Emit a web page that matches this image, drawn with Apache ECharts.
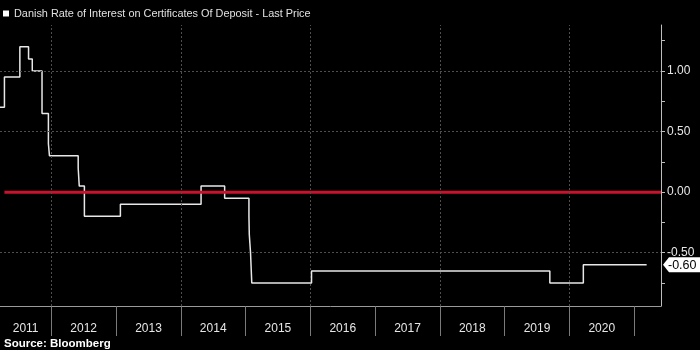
<!DOCTYPE html>
<html>
<head>
<meta charset="utf-8">
<script src="https://cdn.jsdelivr.net/npm/echarts@6/dist/echarts.min.js"></script>
<style>
  html, body { margin: 0; padding: 0; background: #000; }
  #chart { width: 700px; height: 350px; }
</style>
</head>
<body>
<div id="chart"></div>
<script>
// Danish CD rate: each level holds from its date until the next change (%).
const changeDates = [
  '2011-03-18', '2011-04-12', '2011-07-08', '2011-08-26', '2011-09-16',
  '2011-11-10', '2011-12-16', '2011-12-22', '2012-06-01', '2012-06-07',
  '2012-07-06', '2013-01-25', '2014-04-25', '2014-09-05', '2015-01-20',
  '2015-01-22', '2015-01-29', '2015-02-05', '2016-01-08', '2019-09-13',
  '2020-03-20', '2021-03-12'
];
const rates = [
  0.70, 0.95, 1.20, 1.10, 1.00,
  0.65, 0.40, 0.30, 0.20, 0.05,
  -0.20, -0.10, 0.05, -0.05, -0.20,
  -0.35, -0.50, -0.75, -0.65, -0.75,
  -0.60, -0.60
];
const seriesName = 'Danish Rate of Interest on Certificates Of Deposit - Last Price';

// Axis settings
const xRange = ['2011-03-18', '2021-06-01'];
const yRange = [-0.94, 1.38];
const yearLabels = ['2011', '2012', '2013', '2014', '2015', '2016', '2017', '2018', '2019', '2020'];
const yearBoundaries = ['2012', '2013', '2014', '2015', '2016', '2017', '2018', '2019', '2020', '2021'];
const gridYears = ['2012', '2014', '2016', '2018', '2020'];
const yTickValues = [-0.75, -0.5, -0.25, 0, 0.25, 0.5, 0.75, 1.0, 1.25];
const yLabelValues = [-0.5, 0, 0.5, 1.0];
const yGridValues = [-0.5, 0.5, 1.0];
const zeroLineStart = '2011-04-12';

// dates become UTC timestamps on a linear value axis
const ts = s => {
  const p = s.split('-').map(Number);
  return Date.UTC(p[0], (p[1] || 1) - 1, p[2] || 1);
};
const xMin = ts(xRange[0]);
const xMax = ts(xRange[1]);

const lineData = changeDates.map((d, i) => [ts(d), rates[i]]);

// Year labels sit in the middle of the visible part of each year
const yearLabelValues = yearLabels.map(y => {
  const a = Math.max(ts(y), xMin);
  const b = Math.min(ts(String(+y + 1)), xMax);
  return (a + b) / 2;
});
const yearTickValues = yearBoundaries.map(ts);

const lastPoint = lineData[lineData.length - 1];
const FONT = '"Liberation Sans", Arial, sans-serif';

const chart = echarts.init(document.getElementById('chart'), null, { renderer: 'canvas' });
chart.setOption({
  animation: false,
  backgroundColor: '#000',
  textStyle: { fontFamily: FONT },
  title: {
    text: 'Source: Bloomberg',
    left: 4, top: 338, padding: 0,
    textStyle: { color: '#fff', fontSize: 11.5, fontWeight: 'bold', fontFamily: FONT }
  },
  legend: {
    data: [seriesName],
    left: 3, top: 8, padding: 0,
    icon: 'rect', itemWidth: 6, itemHeight: 6,
    textStyle: { color: '#e0e0e0', fontSize: 10.9, fontFamily: FONT },
    selectedMode: false
  },
  grid: { left: 0, right: 39, top: 25, bottom: 44, containLabel: false, outerBoundsMode: 'none' },
  xAxis: {
    type: 'value',
    min: xMin, max: xMax,
    axisLine: { show: true, onZero: false, lineStyle: { color: '#9a9a9a', width: 1 } },
    axisTick: { show: true, customValues: yearTickValues, length: 30, lineStyle: { color: '#7a7a7a' } },
    axisLabel: {
      customValues: yearLabelValues,
      color: '#e6e6e6', fontSize: 12, margin: 17, fontFamily: FONT,
      formatter: v => String(new Date(v).getUTCFullYear()),
      hideOverlap: false, showMinLabel: true, showMaxLabel: true
    },
    splitLine: { show: false }
  },
  yAxis: {
    type: 'value',
    position: 'right',
    min: yRange[0], max: yRange[1],
    axisLine: { show: true, onZero: false, lineStyle: { color: '#bdbdbd', width: 1 } },
    axisTick: { show: true, customValues: yTickValues, length: 4, lineStyle: { color: '#bdbdbd' } },
    axisLabel: {
      customValues: yLabelValues,
      color: '#e6e6e6', fontSize: 12, margin: 6, fontFamily: FONT,
      formatter: v => v.toFixed(2)
    },
    splitLine: { show: false }
  },
  series: [
    {
      // dotted reference grid
      name: 'grid', type: 'line', data: [], silent: true, z: 1,
      markLine: {
        silent: true, symbol: ['none', 'none'], animation: false,
        label: { show: false },
        lineStyle: { color: '#4e4e4e', type: [2, 2], width: 1 },
        data: yGridValues.map(v => ({ yAxis: v })).concat(gridYears.map(y => ({ xAxis: ts(y) })))
      }
    },
    {
      name: seriesName,
      type: 'line',
      step: 'end',
      data: lineData,
      showSymbol: false,
      symbol: 'none',
      color: '#ffffff',
      lineStyle: { color: '#e8e8e8', width: 1.5 },
      z: 3
    },
    {
      name: 'zero', type: 'line', silent: true,
      data: [[ts(zeroLineStart), 0], [xMax, 0]],
      symbol: 'none',
      lineStyle: { color: '#c8122e', width: 3 },
      z: 4
    },
    {
      // last price tag on the value axis
      name: 'last', type: 'custom', silent: true, clip: false, z: 6,
      data: [[xMax, lastPoint[1]]],
      renderItem: (params, api) => {
        const p = api.coord([api.value(0), api.value(1)]);
        const x = p[0] + 2, y = p[1];
        return {
          type: 'group',
          children: [
            {
              type: 'polygon',
              shape: { points: [[x, y], [x + 6, y - 7.5], [x + 37, y - 7.5], [x + 37, y + 7.5], [x + 6, y + 7.5]] },
              style: { fill: '#fff' }
            },
            {
              type: 'text',
              style: {
                text: lastPoint[1].toFixed(2),
                x: x + 5, y: y + 0.5,
                verticalAlign: 'middle', align: 'left',
                fill: '#000', font: '12.5px ' + FONT
              }
            }
          ]
        };
      }
    }
  ]
});
</script>
</body>
</html>
